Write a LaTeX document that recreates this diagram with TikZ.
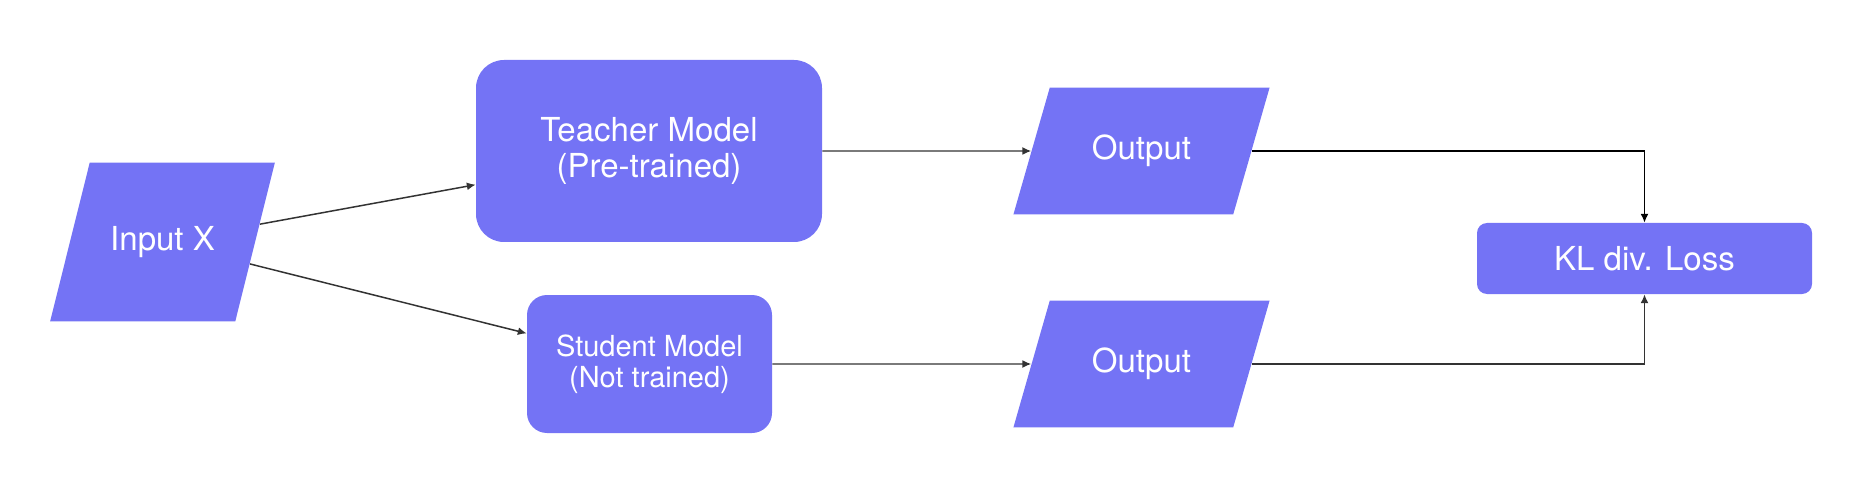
\documentclass[tikz,border=0pt]{standalone}
\usepackage{fontspec}
\setmainfont{TeX Gyre Heros}
\usepackage{xcolor}
\usepackage{tikz}
\usetikzlibrary{arrows.meta,shapes.geometric}
\definecolor{boxblue}{HTML}{7473F5}
\definecolor{wire}{HTML}{333333}
\tikzstyle{io}=[trapezium, trapezium left angle=76, trapezium right angle=104,
  fill=boxblue, text=white, text height=13.5pt, text depth=4pt,
  font=\fontsize{18.8}{22}\selectfont]
\tikzstyle{model}=[rectangle, fill=boxblue, text=white, text centered,
  align=center, inner sep=0pt, font=\fontsize{18.8}{20.5}\selectfont]
\tikzstyle{link}=[->, draw=wire, line width=0.85pt]

\begin{document}
\begin{tikzpicture}[>={Latex[length=5pt,width=4.5pt]}]
  \useasboundingbox (-3.25,4.84) rectangle (34.15,-5.12);
  \node(input)[io, inner xsep=11.6pt, inner ysep=36.35pt]{Input X};

  \path(input.center)+(9.73,1.82) node(teacher)[model, rounded corners=0.56cm,
    minimum width=6.92cm, minimum height=3.64cm]{Teacher Model\\(Pre-trained)};
  \draw[link] (input) -- (teacher.191);

  \path(input.center)+(9.74,-2.44) node(student)[model, rounded corners=0.4cm,
    minimum width=4.9cm, minimum height=2.76cm,
    font=\fontsize{16.5}{17.6}\selectfont]{Student Model\\(Not trained)};
  \draw[link] (input) -- (student.166);

  \path(teacher.center)+(9.85,0) node(out1)[io, trapezium left angle=74,
    trapezium right angle=106, inner xsep=24pt, inner ysep=27.25pt]{Output};
  \draw[link] (teacher) -- (out1);

  \path(student.center)+(9.84,0) node(out2)[io, trapezium left angle=74,
    trapezium right angle=106, inner xsep=24pt, inner ysep=27.25pt]{Output};
  \draw[link] (student) -- (out2);

  \path(input.center)+(29.64,-0.33) node(kl)[model, rounded corners=0.2cm,
    minimum width=6.7cm, minimum height=1.42cm]{KL div. Loss};
  \draw[link, draw=black] (out1) -| (kl);
  \draw[link] (out2) -| (kl);
\end{tikzpicture}
\end{document}
